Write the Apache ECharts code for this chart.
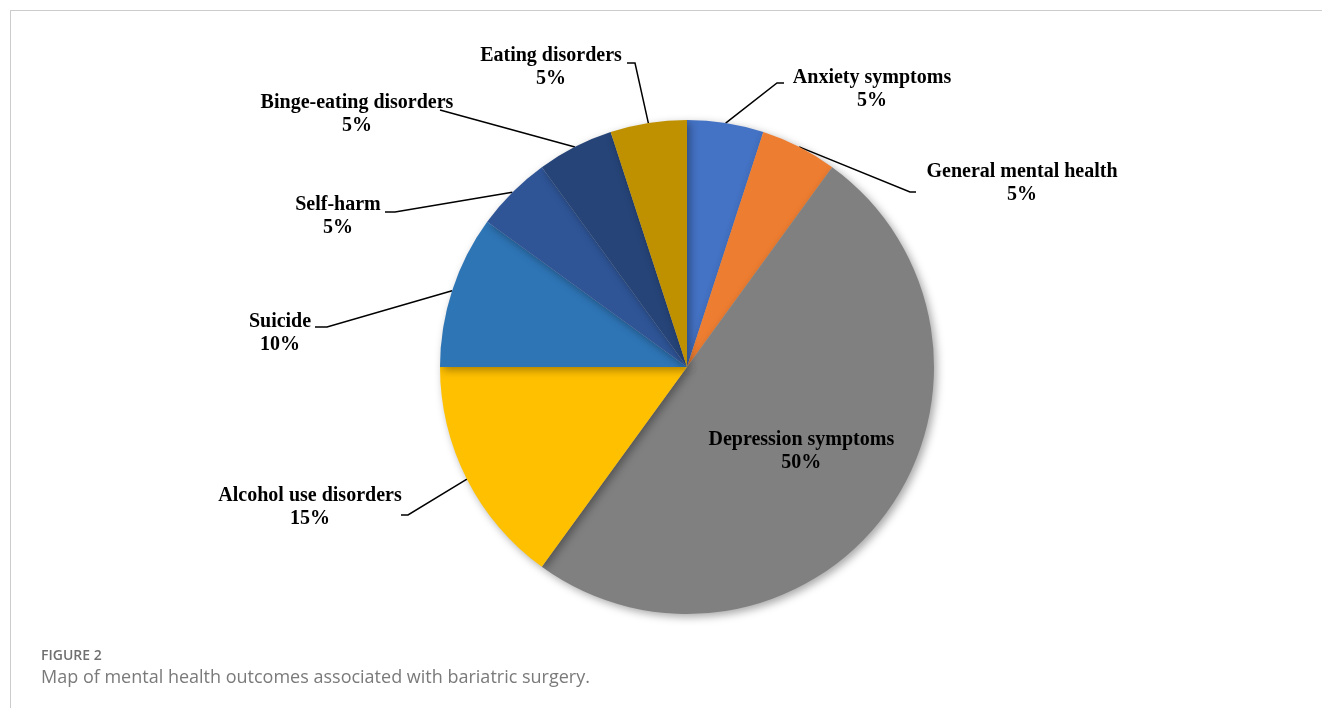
<!DOCTYPE html>
<html>
<head>
<meta charset="utf-8">
<script src="https://cdn.jsdelivr.net/npm/echarts@6/dist/echarts.min.js"></script>
<style>
html,body{margin:0;padding:0;background:#fff;}
#chart{width:1322px;height:708px;}
</style>
</head>
<body>
<div id="chart"></div>
<script>
// ---- data ----
const categories = ['Anxiety symptoms','General mental health','Depression symptoms','Alcohol use disorders','Suicide','Self-harm','Binge-eating disorders','Eating disorders'];
const shares = [5, 5, 50, 15, 10, 5, 5, 5];
const captionLabel = 'FIGURE 2';
const captionText = 'Map of mental health outcomes associated with bariatric surgery.';

// ---- styles / layout ----
const colors = ['#4472C4','#ED7D31','#808080','#FFC000','#2E75B6','#2F5597','#264478','#BF9000'];
const pieCenter = [687, 367];
const pieRadius = 247;
// label block centres and leader-line elbow/end points (layout only)
const labelPos = [[872,89],[1022,183],null,[310,507],[280,333],[338,216],[357,114],[551,67]];
const lineElbow = [[777,83],[910,192],null,[408,515],[327,327],[395,212],[440,110],[635,63]];
const lineEnd = [[784,83],[916,192],null,[401,515],[315,327],[385,212],[440,110],[627,63]];

const chart = echarts.init(document.getElementById('chart'), null, {renderer:'canvas'});

const total = shares.reduce((a,b)=>a+b,0);
const data = categories.map((name,i)=>{
  const item = {name:name, value:shares[i], itemStyle:{color:colors[i]}};
  if (i === 2) {
    item.label = {position:'inside'};
    item.labelLine = {show:false};
  }
  return item;
});

function anchorFor(i){
  let acc = 0;
  for (let k=0;k<i;k++) acc += shares[k];
  const mid = (acc + shares[i]/2)/total*2*Math.PI;
  return [pieCenter[0] + pieRadius*Math.sin(mid), pieCenter[1] - pieRadius*Math.cos(mid)];
}

const option = {
  backgroundColor:'#fff',
  animation:false,
  title:[
    {text:captionLabel, left:36, top:644, textStyle:{fontFamily:'Open Sans', fontSize:14, fontWeight:600, color:'#707070'}},
    {text:captionText, left:36, top:664, textStyle:{fontFamily:'Open Sans', fontSize:18, fontWeight:'normal', color:'#7a7a7a'}}
  ],
  graphic:[
    {type:'line', shape:{x1:10,y1:10.5,x2:1322,y2:10.5}, style:{stroke:'#cccccc', lineWidth:1}},
    {type:'line', shape:{x1:10.5,y1:10,x2:10.5,y2:708}, style:{stroke:'#cccccc', lineWidth:1}}
  ],
  series:[{
    type:'pie',
    center:pieCenter,
    radius:pieRadius,
    startAngle:90,
    clockwise:true,
    avoidLabelOverlap:false,
    data:data,
    itemStyle:{shadowBlur:8, shadowColor:'rgba(0,0,0,0.35)', shadowOffsetX:3, shadowOffsetY:3},
    label:{
      show:true,
      position:'outside',
      formatter:p=>p.name+'\n'+Math.round(p.percent)+'%',
      fontFamily:'Liberation Serif',
      fontWeight:'bold',
      fontSize:20,
      lineHeight:23,
      color:'#000',
      align:'center'
    },
    labelLine:{show:true, length:20, length2:10, lineStyle:{color:'#000', width:1.5}},
    emphasis:{disabled:true},
    labelLayout:function(params){
      const i = params.dataIndex;
      if (i === 2) {
        return {dx:12, dy:10};
      }
      const a = (params.labelLinePoints && params.labelLinePoints[0]) || anchorFor(i);
      return {
        x:labelPos[i][0], y:labelPos[i][1],
        align:'center', verticalAlign:'middle',
        labelLinePoints:[a, lineElbow[i], lineEnd[i]]
      };
    }
  }]
};
chart.setOption(option);
</script>
</body>
</html>
